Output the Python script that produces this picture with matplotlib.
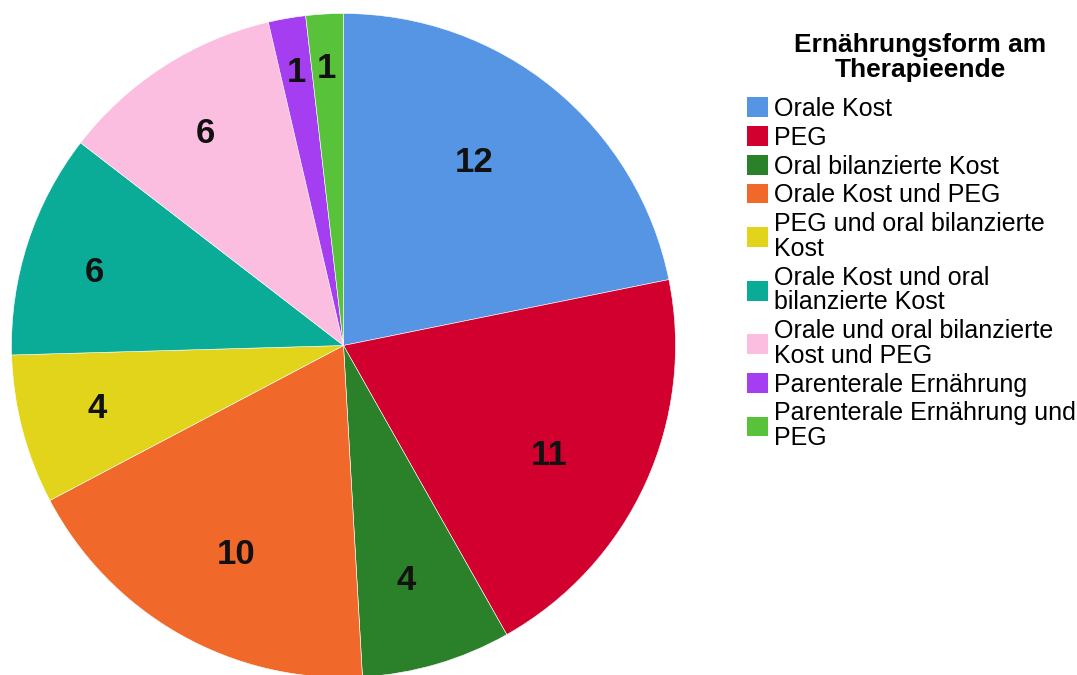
import matplotlib
matplotlib.use("Agg")
import matplotlib.pyplot as plt
import numpy as np
from matplotlib.patches import Patch

plt.rcParams['font.family'] = ['Liberation Sans', 'DejaVu Sans']

categories = [
    "Orale Kost",
    "PEG",
    "Oral bilanzierte Kost",
    "Orale Kost und PEG",
    "PEG und oral bilanzierte\nKost",
    "Orale Kost und oral\nbilanzierte Kost",
    "Orale und oral bilanzierte\nKost und PEG",
    "Parenterale Ernährung",
    "Parenterale Ernährung und\nPEG",
]
counts = [12, 11, 4, 10, 4, 6, 6, 1, 1]
colors = ["#5595E3", "#D2002E", "#2B8129", "#F0692A", "#E1D41A",
          "#0AAB97", "#FBBDE0", "#A53EF0", "#57C23A"]
legend_title = "Ernährungsform am\nTherapieende"

# count label placement: fraction of the radius and angular nudge (degrees)
label_radius = [0.676, 0.703, 0.731, 0.709, 0.766, 0.783, 0.761, 0.833, 0.837]
label_nudge = [3.7, -3.5, -1.5, 2.2, -0.5, 1.6, 0.4, 0.0, 0.3]

W, H = 1077, 675
fig = plt.figure(figsize=(W / 100, H / 100), dpi=100)
ax = fig.add_axes([0, 0, 1, 1])

cx, cy, r = 343.5, H - 345.5, 332
wedges, _ = ax.pie(counts, colors=colors, startangle=90, counterclock=False,
                   center=(cx, cy), radius=r, frame=True,
                   wedgeprops=dict(edgecolor='white', linewidth=0.4))
ax.set_xlim(0, W)
ax.set_ylim(0, H)
ax.set_aspect('equal')
ax.axis('off')

for w, v, f, d in zip(wedges, counts, label_radius, label_nudge):
    mid = np.deg2rad((w.theta1 + w.theta2) / 2 + d)
    ax.text(cx + f * r * np.cos(mid), cy + f * r * np.sin(mid), str(v),
            ha='center', va='center', fontsize=25, fontweight='bold',
            color='#111111')

# legend title, centred above the entries
fig.text(920 / W, 1 - 57.5 / H, legend_title, ha='center', va='center',
         fontsize=19, fontweight='bold', linespacing=1.04)

handles = [Patch(facecolor=c, edgecolor='none') for c in colors]
leg = fig.legend(handles, categories, loc='upper left',
                 bbox_to_anchor=(747 / W, 1 - 97 / H), frameon=False,
                 fontsize=18,
                 handlelength=0.84, handleheight=0.84, handletextpad=0.25,
                 labelspacing=0.19, borderaxespad=0, borderpad=0)
for t in leg.get_texts():
    t.set_linespacing(1.04)

fig.savefig("out.png", dpi=100)
